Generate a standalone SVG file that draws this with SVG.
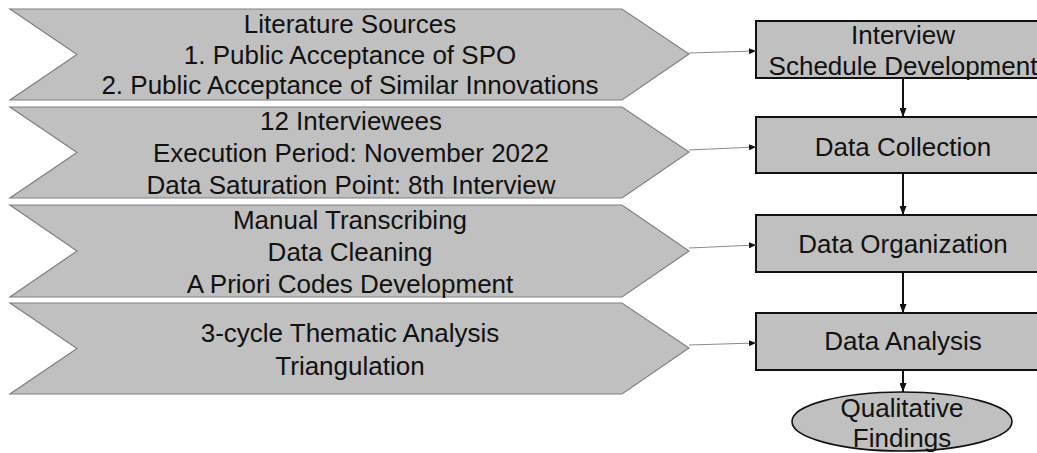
<svg xmlns="http://www.w3.org/2000/svg" width="1037" height="453" viewBox="0 0 1037 453">
  <style>
    .chev { fill: #c0c0c0; stroke: #808080; stroke-width: 1.2; }
    .box { fill: #c0c0c0; stroke: #111111; stroke-width: 2; }
    .oval { fill: #c0c0c0; stroke: #111111; stroke-width: 1.6; }
    text { font-family: "Liberation Sans", Arial, sans-serif; font-size: 26px; fill: #111111; text-anchor: middle; }
    .feed { stroke: #8a8a8a; stroke-width: 1.2; fill: none; }
    .flow { stroke: #111111; stroke-width: 2; fill: none; }
  </style>
  <defs>
    <marker id="tipSmall" viewBox="0 0 10 10" refX="10" refY="5" markerWidth="7" markerHeight="6" markerUnits="userSpaceOnUse" orient="auto" preserveAspectRatio="none">
      <path d="M0,0 L10,5 L0,10 Z" fill="#111111"/>
    </marker>
    <marker id="tipDown" viewBox="0 0 10 10" refX="10" refY="5" markerWidth="9" markerHeight="7" markerUnits="userSpaceOnUse" orient="auto" preserveAspectRatio="none">
      <path d="M0,0 L10,5 L0,10 Z" fill="#111111"/>
    </marker>
  </defs>

  <!-- input chevrons -->
  <g id="sources">
    <polygon class="chev" points="10,9 622,9 689,54 622,100 10,100 77,54.5"/>
    <text x="350" y="33">Literature Sources</text>
    <text x="350" y="64">1. Public Acceptance of SPO</text>
    <text x="350" y="94">2. Public Acceptance of Similar Innovations</text>
  </g>
  <g id="interviewees">
    <polygon class="chev" points="10,107 622,107 689,152 622,198 10,198 77,152.5"/>
    <text x="351" y="130">12 Interviewees</text>
    <text x="351" y="162">Execution Period: November 2022</text>
    <text x="351" y="194">Data Saturation Point: 8th Interview</text>
  </g>
  <g id="transcribing">
    <polygon class="chev" points="10,205 622,205 689,251 622,297 10,297 77,251"/>
    <text x="350" y="229">Manual Transcribing</text>
    <text x="350" y="261">Data Cleaning</text>
    <text x="350" y="293">A Priori Codes Development</text>
  </g>
  <g id="thematic">
    <polygon class="chev" points="10,303 622,303 689,348 622,394 10,394 77,348.5"/>
    <text x="350" y="342">3-cycle Thematic Analysis</text>
    <text x="350" y="375">Triangulation</text>
  </g>

  <!-- process steps -->
  <g id="schedule">
    <rect class="box" x="756" y="21" width="294" height="57"/>
    <text x="903" y="44">Interview</text>
    <text x="903" y="75">Schedule Development</text>
  </g>
  <g id="collection">
    <rect class="box" x="756" y="117" width="294" height="56"/>
    <text x="903" y="156">Data Collection</text>
  </g>
  <g id="organization">
    <rect class="box" x="756" y="215" width="294" height="57"/>
    <text x="903" y="253">Data Organization</text>
  </g>
  <g id="analysis">
    <rect class="box" x="756" y="313" width="294" height="57"/>
    <text x="903" y="350">Data Analysis</text>
  </g>
  <g id="findings">
    <ellipse class="oval" cx="902" cy="421.5" rx="110" ry="29.5"/>
    <text x="902" y="417">Qualitative</text>
    <text x="902" y="447">Findings</text>
  </g>

  <!-- connectors -->
  <g id="connectors">
    <line class="feed" x1="689" y1="53" x2="756" y2="51" marker-end="url(#tipSmall)"/>
    <line class="feed" x1="689" y1="150" x2="756" y2="147" marker-end="url(#tipSmall)"/>
    <line class="feed" x1="689" y1="248" x2="756" y2="245" marker-end="url(#tipSmall)"/>
    <line class="feed" x1="689" y1="345" x2="756" y2="343" marker-end="url(#tipSmall)"/>
    <line class="flow" x1="903" y1="78" x2="903" y2="117" marker-end="url(#tipDown)"/>
    <line class="flow" x1="903" y1="173" x2="903" y2="215" marker-end="url(#tipDown)"/>
    <line class="flow" x1="903" y1="272" x2="903" y2="313" marker-end="url(#tipDown)"/>
    <line class="flow" x1="903" y1="370" x2="903" y2="392" marker-end="url(#tipDown)"/>
  </g>
</svg>
